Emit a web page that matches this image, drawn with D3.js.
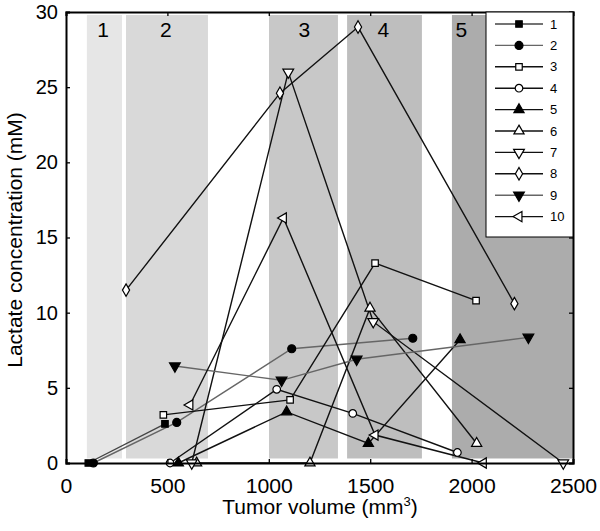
<!DOCTYPE html>
<html><head><meta charset="utf-8">
<script src="https://cdn.jsdelivr.net/npm/d3@7"></script>
<style>body{margin:0;background:#fff}svg{display:block;font-family:"Liberation Sans",Arial,sans-serif}</style>
</head><body><svg id="c" width="600" height="531"></svg>
<script>
const xTicks=[0,500,1000,1500,2000,2500];
const yTicks=[0,5,10,15,20,25,30];
const bandLabels=["1","2","3","4","5"];
const bandStart=[103,296,1001,1386,1903];
const bandEnd=[276,700,1341,1755,2500];
const bandColors=["#e6e6e6","#d9d9d9","#c8c8c8","#bebebe","#acacac"];
const bandLabelX=[183,492,1175,1565,1950];
const seriesNames=["1","2","3","4","5","6","7","8","9","10"];
const s1=[[110,0],[488,2.6]];
const s2=[[135,0],[546,2.7],[1113,7.6],[1710,8.3]];
const s3=[[480,3.2],[1105,4.2],[1524,13.3],[2022,10.8]];
const s4=[[513,0],[1039,4.9],[1414,3.3],[1930,0.7]];
const s5=[[554,0],[1088,3.4],[1491,1.3],[1943,8.2]];
const s6=[[644,0],[1203,0],[1499,10.3],[2025,1.3]];
const s7=[[620,0],[1096,26],[1515,9.4],[2452,0]];
const s8=[[296,11.5],[1055,24.6],[1440,29],[2211,10.6]];
const s9=[[537,6.45],[1063,5.5],[1433,6.9],[2280,8.36]];
const s10=[[611,3.86],[1072,16.3],[1524,1.86],[2058,0]];
const seriesData=[s1,s2,s3,s4,s5,s6,s7,s8,s9,s10];

const markers=[
 {t:d3.symbolSquare,f:"#000",r:0,s:42},
 {t:d3.symbolCircle,f:"#000",r:0,s:50},
 {t:d3.symbolSquare,f:"#fff",r:0,s:42},
 {t:d3.symbolCircle,f:"#fff",r:0,s:45},
 {t:d3.symbolTriangle,f:"#000",r:0,s:45},
 {t:d3.symbolTriangle,f:"#fff",r:0,s:45},
 {t:d3.symbolTriangle,f:"#fff",r:180,s:50},
 {t:d3.symbolDiamond,f:"#fff",r:0,s:45},
 {t:d3.symbolTriangle,f:"#000",r:180,s:50},
 {t:d3.symbolTriangle,f:"#fff",r:-90,s:45}
];
const lineColors=["#444","#666","#111","#111","#111","#111","#111","#111","#666","#111"];

const svg=d3.select("#c");
const x=d3.scaleLinear().domain([0,2500]).range([66,573]);
const y=d3.scaleLinear().domain([0,30]).range([463,12]);

// bands
svg.append("g").selectAll("rect").data(bandStart).join("rect")
 .attr("x",(d)=>x(d)).attr("width",(d,i)=>x(bandEnd[i])-x(d))
 .attr("y",y(29.8)).attr("height",y(0.3)-y(29.8))
 .attr("fill",(d,i)=>bandColors[i]);
svg.append("g").selectAll("text").data(bandLabels).join("text")
 .attr("x",(d,i)=>x(bandLabelX[i])).attr("y",36.5)
 .attr("text-anchor","middle").attr("font-size",21).text(d=>d);

// lines
const line=d3.line().x(d=>x(d[0])).y(d=>y(d[1]));
svg.append("g").selectAll("path").data(seriesData).join("path")
 .attr("d",line).attr("fill","none")
 .attr("stroke",(d,i)=>lineColors[i]).attr("stroke-width",1.4);

// markers
seriesData.forEach((s,i)=>{
 const m=markers[i];
 const sym=d3.symbol().type(m.t).size(m.s);
 svg.append("g").selectAll("path").data(s).join("path")
  .attr("d",sym)
  .attr("transform",d=>`translate(${x(d[0])},${y(d[1])}) rotate(${m.r})`)
  .attr("fill",m.f).attr("stroke","#000").attr("stroke-width",1.2);
});

// axes
const gb=svg.append("g").attr("transform",`translate(0,${y(0)})`)
 .call(d3.axisBottom(x).tickValues(xTicks).tickSize(-4).tickPadding(15).tickFormat(d3.format("d")));
const gt=svg.append("g").attr("transform",`translate(0,${y(30)})`)
 .call(d3.axisTop(x).tickValues(xTicks).tickSize(-4).tickFormat(""));
const gl=svg.append("g").attr("transform",`translate(${x(0)},0)`)
 .call(d3.axisLeft(y).tickValues(yTicks).tickSize(-4).tickPadding(8));
const gr=svg.append("g").attr("transform",`translate(${x(2500)},0)`)
 .call(d3.axisRight(y).tickValues(yTicks).tickSize(-4).tickFormat(""));
[gb,gt,gl,gr].forEach(g=>{
 g.select(".domain").attr("stroke","#000").attr("stroke-width",2);
 g.selectAll(".tick line").attr("stroke","#000").attr("stroke-width",1.3);
 g.selectAll("text").attr("font-size",20).attr("fill","#000").attr("font-family","Liberation Sans, Arial, sans-serif");
});
gb.selectAll("text").attr("font-size",20.5)
 .attr("textLength",function(){return this.textContent.length*11.8;})
 .attr("lengthAdjust","spacingAndGlyphs");

// axis titles
svg.append("text").attr("x",320).attr("y",514).attr("text-anchor","middle").attr("font-size",21)
 .html('Tumor volume (mm<tspan dy="-8" font-size="13">3</tspan><tspan dy="8">)</tspan>');
svg.append("text").attr("transform","translate(22,240) rotate(-90)").attr("text-anchor","middle")
 .attr("font-size",21).text("Lactate concentration (mM)");

// legend
const lg=svg.append("g");
lg.append("rect").attr("x",486).attr("y",12).attr("width",87).attr("height",225)
 .attr("fill","#fff").attr("stroke","#000").attr("stroke-width",1);
seriesNames.forEach((n,i)=>{
 const yy=24+i*21.4;
 lg.append("line").attr("x1",495).attr("x2",543).attr("y1",yy).attr("y2",yy)
  .attr("stroke",lineColors[i]).attr("stroke-width",1.4);
 const m=markers[i];
 lg.append("path").attr("d",d3.symbol().type(m.t).size(m.s)())
  .attr("transform",`translate(519,${yy}) rotate(${m.r})`)
  .attr("fill",m.f).attr("stroke","#000").attr("stroke-width",1.2);
 lg.append("text").attr("x",550).attr("y",yy+4.5).attr("font-size",13).text(n);
});
</script></body></html>
